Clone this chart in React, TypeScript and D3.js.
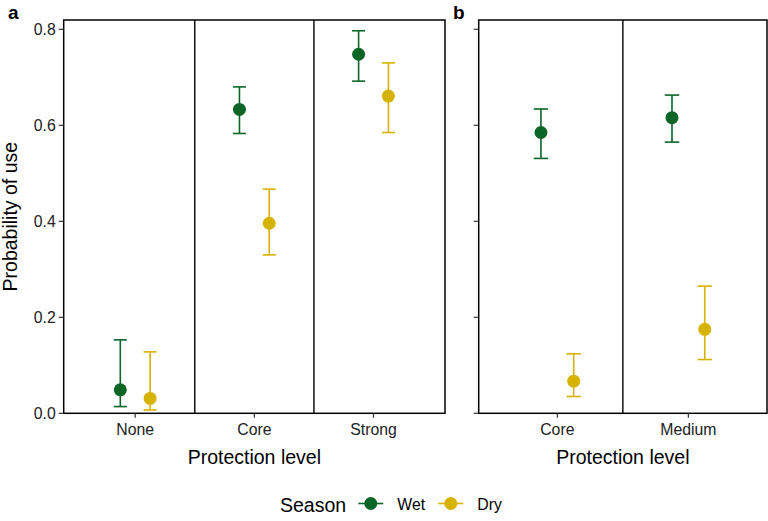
import React from "react";
import * as d3 from "d3";

// ---- Data ----
const categoriesA = ["None", "Core", "Strong"];
const wetA = [0.049, 0.633, 0.748];
const wetALo = [0.014, 0.583, 0.692];
const wetAHi = [0.153, 0.68, 0.797];
const dryA = [0.031, 0.396, 0.661];
const dryALo = [0.007, 0.33, 0.585];
const dryAHi = [0.128, 0.467, 0.73];

const categoriesB = ["Core", "Medium"];
const wetB = [0.585, 0.616];
const wetBLo = [0.531, 0.565];
const wetBHi = [0.634, 0.663];
const dryB = [0.067, 0.175];
const dryBLo = [0.035, 0.112];
const dryBHi = [0.124, 0.265];

const yTicks = [0, 0.2, 0.4, 0.6, 0.8];
const seasons = ["Wet", "Dry"];
const colors = { Wet: "#0b6527", Dry: "#d6b300" };

const W = 768;
const H = 521;
const FONT = "'Liberation Sans', Arial, Helvetica, sans-serif";

const top = 20;
const bottom = 413.3;
const y = d3.scaleLinear().domain([0, 0.8194]).range([bottom, top]);

type Panel = {
  label: string;
  left: number;
  right: number;
  cats: string[];
  wet: number[];
  wetLo: number[];
  wetHi: number[];
  dry: number[];
  dryLo: number[];
  dryHi: number[];
  showYLabels: boolean;
};

const panels: Panel[] = [
  {
    label: "a",
    left: 63.7,
    right: 445,
    cats: categoriesA,
    wet: wetA,
    wetLo: wetALo,
    wetHi: wetAHi,
    dry: dryA,
    dryLo: dryALo,
    dryHi: dryAHi,
    showYLabels: true,
  },
  {
    label: "b",
    left: 478.7,
    right: 767,
    cats: categoriesB,
    wet: wetB,
    wetLo: wetBLo,
    wetHi: wetBHi,
    dry: dryB,
    dryLo: dryBLo,
    dryHi: dryBHi,
    showYLabels: false,
  },
];

function PanelView({ p }: { p: Panel }) {
  const x = d3.scalePoint<string>().domain(p.cats).range([p.left, p.right]).padding(0.6);
  const step = x.step();
  const dodge = 0.125 * step;
  const capHalf = 0.055 * step;
  const dividers = p.cats.slice(1).map((c, i) => ((x(p.cats[i]) as number) + (x(c) as number)) / 2);
  const series = [
    { key: "Wet", v: p.wet, lo: p.wetLo, hi: p.wetHi, off: -dodge },
    { key: "Dry", v: p.dry, lo: p.dryLo, hi: p.dryHi, off: dodge },
  ];
  const mid = (p.left + p.right) / 2;
  return (
    <g>
      {/* dividers */}
      {dividers.map((d, i) => (
        <line key={i} x1={d} x2={d} y1={top} y2={bottom} stroke="#000" strokeWidth={1.4} />
      ))}
      {/* border */}
      <rect x={p.left} y={top} width={p.right - p.left} height={bottom - top} fill="none" stroke="#000" strokeWidth={1.5} />
      {/* y ticks */}
      {yTicks.map((t) => (
        <g key={t}>
          <line x1={p.left - 5} x2={p.left} y1={y(t)} y2={y(t)} stroke="#333" strokeWidth={1.2} />
          {p.showYLabels && (
            <text x={p.left - 8} y={y(t)} dy="0.36em" textAnchor="end" fontSize={15.8} fill="#222" fontFamily={FONT}>
              {t.toFixed(1)}
            </text>
          )}
        </g>
      ))}
      {/* x ticks */}
      {p.cats.map((c) => (
        <g key={c}>
          <line x1={x(c)} x2={x(c)} y1={bottom} y2={bottom + 4.5} stroke="#333" strokeWidth={1.2} />
          <text x={x(c)} y={435} textAnchor="middle" fontSize={15.8} fill="#222" fontFamily={FONT}>
            {c}
          </text>
        </g>
      ))}
      {/* data */}
      {series.map((s) =>
        p.cats.map((c, i) => {
          const cx = (x(c) as number) + s.off;
          const col = (colors as any)[s.key];
          return (
            <g key={s.key + c}>
              <line x1={cx} x2={cx} y1={y(s.lo[i])} y2={y(s.hi[i])} stroke={col} strokeWidth={1.6} />
              <line x1={cx - capHalf} x2={cx + capHalf} y1={y(s.lo[i])} y2={y(s.lo[i])} stroke={col} strokeWidth={1.6} />
              <line x1={cx - capHalf} x2={cx + capHalf} y1={y(s.hi[i])} y2={y(s.hi[i])} stroke={col} strokeWidth={1.6} />
              <circle cx={cx} cy={y(s.v[i])} r={6.5} fill={col} />
            </g>
          );
        })
      )}
      {/* axis title */}
      <text x={mid} y={464} textAnchor="middle" fontSize={19.5} fill="#000" fontFamily={FONT}>
        Protection level
      </text>
    </g>
  );
}

export default function App() {
  const legendY = 503.5;
  const legendItems = [
    { key: "Wet", x0: 358.3, tx: 397.3 },
    { key: "Dry", x0: 438.3, tx: 477.3 },
  ];
  return (
    <svg
      width={W}
      height={H}
      viewBox={`0 0 ${W} ${H}`}
      style={{ position: "absolute", left: 0, top: 0, background: "#fff" }}
    >
      <rect x={0} y={0} width={W} height={H} fill="#fff" />
      {panels.map((p) => (
        <PanelView key={p.label} p={p} />
      ))}
      <text x={8} y={18.5} fontSize={19} fontWeight="bold" fontFamily={FONT}>a</text>
      <text x={453} y={18.5} fontSize={19} fontWeight="bold" fontFamily={FONT}>b</text>
      <text
        transform={`translate(17, ${(top + bottom) / 2}) rotate(-90)`}
        textAnchor="middle"
        fontSize={19.5}
        fontFamily={FONT}
        fill="#000"
      >
        Probability of use
      </text>
      {/* legend */}
      <text x={280} y={511.5} fontSize={19.5} fontFamily={FONT} fill="#000">Season</text>
      {legendItems.map((it) => {
        const col = (colors as any)[it.key];
        return (
          <g key={it.key}>
            <line x1={it.x0} x2={it.x0 + 25} y1={legendY} y2={legendY} stroke={col} strokeWidth={1.6} />
            <circle cx={it.x0 + 12.5} cy={legendY} r={6.5} fill={col} />
            <text x={it.tx} y={509.5} fontSize={15.8} fontFamily={FONT} fill="#000">{it.key}</text>
          </g>
        );
      })}
    </svg>
  );
}
